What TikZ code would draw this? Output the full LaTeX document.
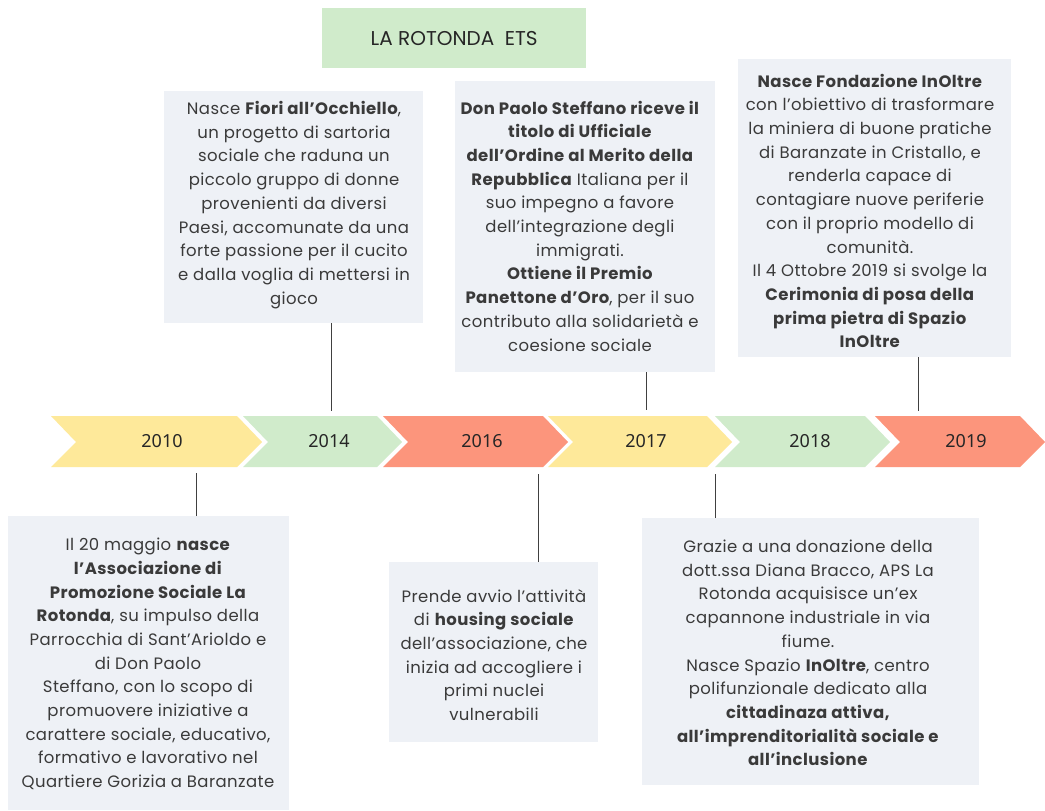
\documentclass[tikz,border=0pt]{standalone}
\usepackage{fontspec}
\setmainfont{Poppins}[LetterSpace=2.5]
\newfontfamily\yearfont{Noto Sans}
\newfontfamily\titlefont{Poppins}
\usetikzlibrary{calc}
\definecolor{cyel}{HTML}{FEE99A}
\definecolor{cgrn}{HTML}{D0EBCB}
\definecolor{csal}{HTML}{FC957C}
\definecolor{cbox}{HTML}{EEF1F6}
\definecolor{ctxt}{HTML}{3A3A3A}
\begin{document}
\begin{tikzpicture}[x=1pt,y=-1pt,
  box/.style={fill=cbox, draw=none, inner sep=0pt, anchor=north west},
  txt/.style={align=center, text=ctxt, font=\fontsize{16.5}{23.7}\selectfont, inner sep=0pt},
  yr/.style={font=\yearfont\fontsize{18}{20}\selectfont, text=black!85, inner sep=0pt},
  conn/.style={draw=black!75, line width=0.9pt}]
\useasboundingbox[fill=white] (0,0) rectangle (1045,811);

% title
\node[fill=cgrn, minimum width=264pt, minimum height=60pt, inner sep=0pt, anchor=north west,
  font=\titlefont\fontsize{20}{22}\selectfont, text=black!85] (title) at (322,8) {LA ROTONDA\ \ ETS};

% chevrons
\fill[cyel] (51,416) -- (237,416) -- (262,442) -- (237,467) -- (51,467) -- (76,442) -- cycle;
\fill[cgrn] (243,416) -- (377,416) -- (402,442) -- (377,467) -- (243,467) -- (268,442) -- cycle;
\fill[csal] (383,416) -- (543,416) -- (568,442) -- (543,467) -- (383,467) -- (408,442) -- cycle;
\fill[cyel] (548,416) -- (707,416) -- (732,442) -- (707,467) -- (548,467) -- (573,442) -- cycle;
\fill[cgrn] (715,416) -- (865,416) -- (890,442) -- (865,467) -- (715,467) -- (740,442) -- cycle;
\fill[csal] (875,416) -- (1020,416) -- (1045,442) -- (1020,467) -- (875,467) -- (900,442) -- cycle;

\node[yr] (y2010) at (162,441) {2010};
\node[yr] (y2014) at (329,441) {2014};
\node[yr] (y2016) at (482,441) {2016};
\node[yr] (y2017) at (646,441) {2017};
\node[yr] (y2018) at (810,441) {2018};
\node[yr] (y2019) at (966,441) {2019};

% boxes
\node[box, minimum width=259pt, minimum height=232pt] (b2014) at (164,91) {};
\node[box, minimum width=260pt, minimum height=291pt] (b2017) at (455,81) {};
\node[box, minimum width=273pt, minimum height=298pt] (b2019) at (738,59) {};
\node[box, minimum width=281pt, minimum height=294pt] (b2010) at (8,516) {};
\node[box, minimum width=209pt, minimum height=180pt] (b2016) at (389,562) {};
\node[box, minimum width=337pt, minimum height=267pt] (b2018) at (642,518) {};

% connector ends
\coordinate (c2014) at (331,411);
\coordinate (c2017) at (646,410);
\coordinate (c2019) at (918,411);
\coordinate (c2010) at (196,473);
\coordinate (c2016) at (538,474);
\coordinate (c2018) at (715,474);

\draw[conn] (b2014.south -| c2014) -- (c2014);
\draw[conn] (b2017.south -| c2017) -- (c2017);
\draw[conn] (b2019.south -| c2019) -- (c2019);
\draw[conn] (b2010.north -| c2010) -- (c2010);
\draw[conn] (b2016.north -| c2016) -- (c2016);
\draw[conn] (b2018.north -| c2018) -- (c2018);

% texts
\node[txt] (t2014) at (294,205) {Nasce \textbf{Fiori all'Occhiello},\\un progetto di sartoria\\sociale che raduna un\\piccolo gruppo di donne\\provenienti da diversi\\Paesi, accomunate da una\\forte passione per il cucito\\e dalla voglia di mettersi in\\gioco};

\node[txt] (t2017) at (580,226) {\textbf{Don Paolo Steffano riceve il}\\\textbf{titolo di Ufficiale}\\\textbf{dell'Ordine al Merito della}\\\textbf{Repubblica} Italiana per il\\suo impegno a favore\\dell'integrazione degli\\immigrati.\\\textbf{Ottiene il Premio}\\\textbf{Panettone d'Oro}, per il suo\\contributo alla solidarietà e\\coesione sociale};

\node[txt] (t2019) at (870,211) {\textbf{Nasce Fondazione InOltre}\\con l'obiettivo di trasformare\\la miniera di buone pratiche\\di Baranzate in Cristallo, e\\renderla capace di\\contagiare nuove periferie\\con il proprio modello di\\comunità.\\Il 4 Ottobre 2019 si svolge la\\\textbf{Cerimonia di posa della}\\\textbf{prima pietra di Spazio}\\\textbf{InOltre}};

\node[txt] (t2010) at (148,664) {Il 20 maggio \textbf{nasce}\\\textbf{l'Associazione di}\\\textbf{Promozione Sociale La}\\\textbf{Rotonda}, su impulso della\\Parrocchia di Sant'Arioldo e\\di Don Paolo\\Steffano, con lo scopo di\\promuovere iniziative a\\carattere sociale, educativo,\\formativo e lavorativo nel\\Quartiere Gorizia a Baranzate};

\node[txt] (t2016) at (494,655) {Prende avvio l'attività\\di \textbf{housing sociale}\\dell'associazione, che\\inizia ad accogliere i\\primi nuclei\\vulnerabili};

\node[txt] (t2018) at (808,653) {Grazie a una donazione della\\dott.ssa Diana Bracco, APS La\\Rotonda acquisisce un'ex\\capannone industriale in via\\fiume.\\Nasce Spazio \textbf{InOltre}, centro\\polifunzionale dedicato alla\\\textbf{cittadinaza attiva,}\\\textbf{all'imprenditorialità sociale e}\\\textbf{all'inclusione}};
\end{tikzpicture}
\end{document}
